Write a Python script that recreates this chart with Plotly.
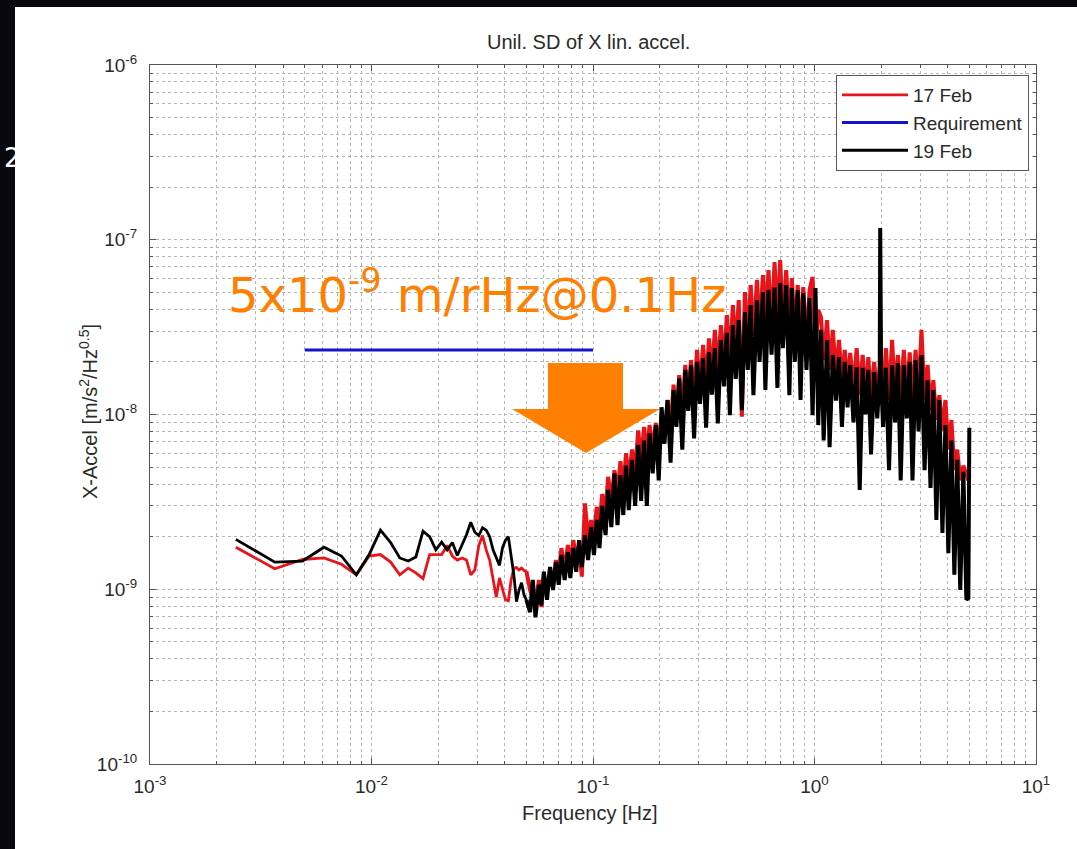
import plotly.graph_objects as go

# ---------------- data ----------------
# low-frequency PSD bins (Hz)
freq_low_hz = [
    0.00244, 0.00366, 0.00488, 0.00610, 0.00732, 0.00854, 0.00976, 0.01098, 0.01220, 0.01342,
    0.01464, 0.01586, 0.01708, 0.01830, 0.01952, 0.02074, 0.02196, 0.02318, 0.02440, 0.02562,
    0.02684, 0.02806, 0.02928, 0.03050, 0.03172, 0.03294, 0.03416, 0.03538, 0.03660, 0.03782,
    0.03904, 0.04026, 0.04148, 0.04270, 0.04392, 0.04514, 0.04636, 0.04758, 0.04880, 0.05002,
]
# higher-frequency (dense) part (Hz)
freq_high_hz = [
    0.052, 0.0535, 0.055, 0.057, 0.0585, 0.060, 0.062, 0.064, 0.066, 0.068,
    0.070, 0.072, 0.0745, 0.077, 0.079, 0.0815, 0.084, 0.0865, 0.089, 0.092,
    0.095, 0.098, 0.101, 0.104, 0.107, 0.110, 0.114, 0.117, 0.121, 0.125,
    0.129, 0.133, 0.137, 0.141, 0.145, 0.150, 0.155, 0.160, 0.165, 0.170,
    0.175, 0.180, 0.186, 0.192, 0.198, 0.204, 0.210, 0.217, 0.224, 0.231,
    0.238, 0.245, 0.253, 0.261, 0.269, 0.277, 0.286, 0.295, 0.304, 0.314,
    0.324, 0.334, 0.344, 0.355, 0.366, 0.378, 0.390, 0.402, 0.415, 0.428,
    0.441, 0.455, 0.470, 0.485, 0.500, 0.515, 0.530, 0.550, 0.565, 0.585,
    0.600, 0.620, 0.640, 0.660, 0.680, 0.700, 0.720, 0.745, 0.770, 0.790,
    0.815, 0.840, 0.865, 0.890, 0.920, 0.950, 0.980, 1.01, 1.04, 1.07,
    1.10, 1.14, 1.17, 1.21, 1.25, 1.29, 1.33, 1.37, 1.41, 1.45,
    1.50, 1.55, 1.60, 1.65, 1.70, 1.75, 1.80, 1.86, 1.92, 1.97,
    1.98, 2.00, 2.04, 2.10, 2.17, 2.24, 2.31, 2.38, 2.45, 2.53,
    2.61, 2.69, 2.77, 2.86, 2.95, 3.04, 3.14, 3.24, 3.34, 3.44,
    3.55, 3.66, 3.78, 3.90, 4.02, 4.15, 4.28, 4.41, 4.55, 4.70,
    4.85, 4.95, 5.00,
]

# 17 Feb, in units of 1e-9 m/s^2/Hz^0.5
feb17_low_n = [
    1.74, 1.31, 1.48, 1.51, 1.39, 1.21, 1.55, 1.58, 1.43, 1.21,
    1.32, 1.24, 1.15, 1.58, 1.58, 1.58, 1.78, 1.55, 1.47, 1.51,
    1.47, 1.21, 1.29, 1.78, 2.03, 1.68, 1.47, 1.13, 0.90, 1.16,
    0.99, 0.87, 0.86, 1.13, 1.32, 1.33, 1.29, 1.32, 1.28, 1.27,
]
feb17_high_n = [
    0.99, 0.89, 0.81, 1.13, 0.79, 1.21, 0.99, 1.32, 1.06, 1.47,
    1.21, 1.72, 1.29, 1.79, 1.38, 1.91, 1.47, 1.79, 1.18, 3.1,
    1.91, 2.49, 2.04, 2.96, 2.33, 3.5, 2.84, 4.4, 3.2, 4.8,
    3.5, 5.4, 3.7, 6.0, 4.2, 6.3, 4.8, 8.1, 5.5, 8.5,
    5.9, 8.7, 6.3, 8.9, 6.7, 9.9, 7.1, 12.1, 8.1, 14.8,
    9.3, 16.8, 10.6, 19.2, 12.1, 20.5, 12.9, 23.4, 13.8, 25.0,
    14.8, 27.3, 16.8, 30.5, 18.0, 32.5, 19.2, 37.1, 20.5, 42.3,
    23.4, 45.2, 9.7, 50.2, 26.7, 55.1, 28.5, 58.9, 30.5, 62.8,
    34.7, 67.1, 30.5, 74.6, 34.7, 76.6, 32.5, 67.1, 30.5, 60.4,
    28.5, 55.1, 26.7, 53.5, 25.0, 51.6, 61.2, 23.4, 39.6, 36.1,
    20.5, 34.7, 18.0, 30.5, 16.8, 26.7, 15.7, 23.4, 14.8, 22.5,
    13.8, 24.0, 12.9, 21.9, 12.9, 21.3, 12.1, 20.0, 12.1, 18.7,
    12.9, 19.2, 12.1, 24.0, 12.1, 26.7, 12.9, 21.9, 12.1, 23.4,
    12.4, 22.7, 12.1, 23.4, 12.9, 30.5, 12.1, 19.2, 10.6, 15.7,
    9.3, 12.9, 8.1, 12.1, 6.3, 9.3, 4.8, 6.3, 4.2, 5.1,
    4.6, 4.2, 4.5,
]

# 19 Feb, in units of 1e-9 m/s^2/Hz^0.5
feb19_low_n = [
    1.93, 1.43, 1.45, 1.74, 1.55, 1.21, 1.58, 2.18, 1.85, 1.51,
    1.45, 1.53, 2.15, 2.00, 1.68, 1.86, 1.68, 1.85, 1.56, 1.78,
    2.05, 2.42, 2.12, 2.03, 2.25, 2.18, 2.00, 1.68, 1.51, 1.37,
    1.73, 1.91, 2.00, 1.57, 1.21, 0.85, 0.99, 1.09, 0.93, 0.87,
]
feb19_high_n = [
    0.74, 1.13, 0.69, 1.06, 0.81, 1.26, 0.87, 1.34, 0.99, 1.43,
    1.06, 1.57, 1.13, 1.63, 1.16, 1.72, 1.26, 1.91, 1.34, 2.04,
    1.47, 2.27, 1.57, 2.49, 1.72, 3.0, 2.04, 3.7, 2.27, 4.6,
    2.33, 4.5, 2.66, 5.1, 2.84, 5.5, 3.0, 6.7, 3.2, 7.1,
    3.0, 7.8, 4.6, 8.7, 4.2, 11.0, 6.8, 12.1, 5.3, 13.8,
    8.5, 16.1, 6.3, 18.0, 10.5, 19.2, 7.3, 20.0, 11.5, 21.0,
    8.4, 22.7, 13.0, 24.0, 8.9, 26.7, 14.5, 29.3, 9.9, 32.5,
    16.0, 34.7, 10.6, 38.6, 18.0, 42.3, 12.9, 45.2, 20.0, 50.2,
    13.8, 51.6, 22.0, 53.5, 14.2, 56.6, 24.0, 55.1, 12.9, 52.9,
    20.0, 51.6, 12.1, 49.6, 18.0, 46.4, 9.9, 52.9, 8.7, 30.5,
    7.1, 26.7, 6.5, 21.9, 12.0, 21.3, 8.5, 20.0, 11.0, 19.2,
    9.0, 18.7, 3.7, 18.5, 10.0, 18.0, 5.9, 17.5, 9.5, 16.8,
    116.8, 15.7, 8.5, 18.5, 4.8, 19.2, 9.0, 19.7, 4.2, 19.2,
    9.5, 20.0, 4.2, 20.5, 8.0, 21.9, 4.8, 15.7, 3.8, 13.8,
    2.49, 12.1, 2.10, 8.7, 1.61, 7.1, 1.21, 5.5, 0.99, 4.7,
    0.87, 0.89, 8.4,
]

# requirement line
req_freq_hz = [0.005, 0.1]
req_val = [2.34e-8, 2.34e-8]

NANO = 1e-9
freq_hz = freq_low_hz + freq_high_hz
feb17 = [v * NANO for v in feb17_low_n + feb17_high_n]
feb19 = [v * NANO for v in feb19_low_n + feb19_high_n]
n_low = len(freq_low_hz)

x_decades = [1e-3, 1e-2, 1e-1, 1e0, 1e1]
x_ticktext = ["10<sup>-3</sup>", "10<sup>-2</sup>", "10<sup>-1</sup>", "10<sup>0</sup>", "10<sup>1</sup>"]
y_decades = [1e-10, 1e-9, 1e-8, 1e-7, 1e-6]
y_ticktext = ["10<sup>-10</sup>", "10<sup>-9</sup>", "10<sup>-8</sup>", "10<sup>-7</sup>", "10<sup>-6</sup>"]

# ---------------- layout geometry ----------------
W, H = 1077, 849
L, R, T, B = 150, 41, 65, 85
PW, PH = W - L - R, H - T - B


def px2x(px):
    return (px - L) / PW


def py2y(py):
    return (H - B - py) / PH


minor_x = [m * d for d in x_decades[:-1] for m in range(2, 10)]
minor_y = [m * d for d in y_decades[:-1] for m in range(2, 10)]

FONT = "Liberation Sans, Arial, sans-serif"
TXT = "#2a2a2a"
GRID = "#b4b4b4"
AX = "#555555"
RED = "#e8141a"
BLACK = "#000000"

fig = go.Figure()
# 17 Feb: sparse low-frequency part + dense part
fig.add_trace(go.Scatter(x=freq_hz[:n_low], y=feb17[:n_low], mode="lines", name="17 Feb",
                         legendgroup="a", line=dict(color=RED, width=2.8)))
fig.add_trace(go.Scatter(x=freq_hz[n_low - 1:], y=feb17[n_low - 1:], mode="lines", name="17 Feb",
                         legendgroup="a", showlegend=False, line=dict(color=RED, width=4)))
fig.add_trace(go.Scatter(x=req_freq_hz, y=req_val, mode="lines", name="Requirement",
                         line=dict(color="#1414c8", width=3)))
fig.add_trace(go.Scatter(x=freq_hz[:n_low], y=feb19[:n_low], mode="lines", name="19 Feb",
                         legendgroup="b", line=dict(color=BLACK, width=2.8)))
fig.add_trace(go.Scatter(x=freq_hz[n_low - 1:], y=feb19[n_low - 1:], mode="lines", name="19 Feb",
                         legendgroup="b", showlegend=False, line=dict(color=BLACK, width=4)))

axis_common = dict(
    type="log", ticks="inside", ticklen=6, tickcolor=AX, tickwidth=1,
    showline=True, linecolor=AX, linewidth=1, mirror="allticks",
    showgrid=True, gridcolor=GRID, griddash="dot", gridwidth=1,
    zeroline=False, tickfont=dict(family=FONT, size=19, color=TXT),
)
fig.update_xaxes(range=[-3, 1], tickvals=x_decades, ticktext=x_ticktext,
                 ticklabelstandoff=5,
                 minor=dict(tickvals=minor_x, ticks="inside", ticklen=3, tickcolor=AX,
                            showgrid=True, gridcolor=GRID, griddash="dot", gridwidth=1),
                 **axis_common)
fig.update_yaxes(range=[-10, -6], tickvals=y_decades, ticktext=y_ticktext,
                 ticklabelstandoff=8,
                 minor=dict(tickvals=minor_y, ticks="inside", ticklen=3, tickcolor=AX,
                            showgrid=True, gridcolor=GRID, griddash="dot", gridwidth=1),
                 **axis_common)

shapes = [
    # dark slide background strips around the embedded figure
    dict(type="rect", xref="paper", yref="paper", x0=px2x(0), x1=px2x(15), y0=py2y(H), y1=py2y(0),
         fillcolor="#07070d", line=dict(width=0), layer="above"),
    dict(type="rect", xref="paper", yref="paper", x0=px2x(0), x1=px2x(W), y0=py2y(7), y1=py2y(0),
         fillcolor="#07070d", line=dict(width=0), layer="above"),
    # orange down arrow
    dict(type="path", xref="paper", yref="paper", layer="above",
         path=("M {a},{t} L {b},{t} L {b},{m} L {c},{m} L {d},{e} L {f},{m} L {a},{m} Z").format(
             a=px2x(548), b=px2x(623), c=px2x(660), d=px2x(586), f=px2x(512),
             t=py2y(363), m=py2y(409), e=py2y(453)),
         fillcolor="#ff8000", line=dict(width=0)),
]

annotations = [
    dict(text="Unil. SD of X lin. accel.", x=px2x(588), y=py2y(42), xref="paper", yref="paper",
         xanchor="center", yanchor="middle", showarrow=False,
         font=dict(family=FONT, size=20, color=TXT)),
    dict(text="Frequency [Hz]", x=px2x(590), y=py2y(813), xref="paper", yref="paper",
         xanchor="center", yanchor="middle", showarrow=False,
         font=dict(family=FONT, size=20, color=TXT)),
    dict(text="X-Accel [m/s<sup>2</sup>/Hz<sup>0.5</sup>]", x=px2x(88), y=py2y(412),
         xref="paper", yref="paper", textangle=-90, xanchor="center", yanchor="middle",
         showarrow=False, font=dict(family=FONT, size=20, color=TXT)),
    dict(text="5x10<sup>-9</sup> m/rHz@0.1Hz", x=px2x(226), y=py2y(292), xref="paper", yref="paper",
         xanchor="left", yanchor="middle", showarrow=False,
         font=dict(family="DejaVu Sans", size=48, color="#ff8000")),
    dict(text="2", x=px2x(2), y=py2y(158), xref="paper", yref="paper", xanchor="left",
         yanchor="middle", showarrow=False,
         font=dict(family="DejaVu Sans", size=26, color="#ffffff")),
]

fig.update_layout(
    width=W, height=H, margin=dict(l=L, r=R, t=T, b=B),
    paper_bgcolor="#ffffff", plot_bgcolor="#ffffff",
    showlegend=True,
    legend=dict(x=px2x(1029), xanchor="right", y=py2y(75), yanchor="top",
                bgcolor="#ffffff", bordercolor="#555555", borderwidth=1,
                itemwidth=66,
                font=dict(family=FONT, size=19, color=TXT), tracegroupgap=0),
    shapes=shapes, annotations=annotations,
)

fig.write_html("out.html")
